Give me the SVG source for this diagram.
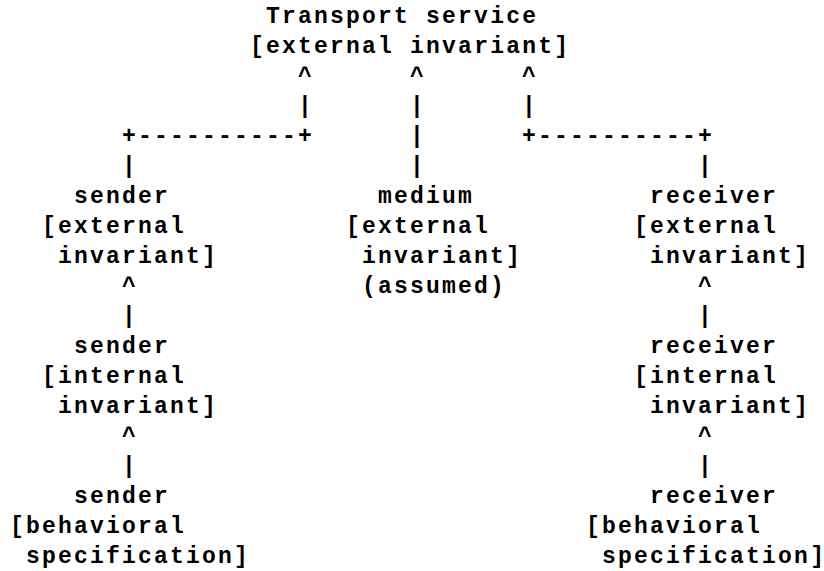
<svg xmlns="http://www.w3.org/2000/svg" width="824" height="571" viewBox="0 0 824 571">
<style>
text{font-family:"Liberation Mono","DejaVu Sans Mono",monospace;font-weight:bold;font-size:23px;letter-spacing:2.2px;fill:#000;white-space:pre}
.end{letter-spacing:0}
</style>
<rect width="824" height="571" fill="#fff"/>
<g id="connectors">
<text x="298.1" y="83">^</text><text x="410.1" y="83">^</text><text x="522.1" y="83">^</text>
<text x="298.1" y="113">|</text><text x="410.1" y="113">|</text><text x="522.1" y="113">|</text>
<text x="122.1" y="143">+----------+</text><text x="410.1" y="143">|</text><text x="522.1" y="143">+----------+</text>
<text x="122.1" y="173">|</text><text x="410.1" y="173">|</text><text x="698.1" y="173">|</text>
<text x="122.1" y="293">^</text><text x="698.1" y="293">^</text>
<text x="122.1" y="323">|</text><text x="698.1" y="323">|</text>
<text x="122.1" y="443">^</text><text x="698.1" y="443">^</text>
<text x="122.1" y="473">|</text><text x="698.1" y="473">|</text>
</g>
<g id="transport">
<text x="266.1" y="23">Transport service</text>
<text x="250.1" y="53">[external invariant]</text>
</g>
<g id="sender-external">
<text x="74.1" y="203">sender</text>
<text x="42.1" y="233">[external</text>
<text x="58.1" y="263">invariant]</text>
</g>
<g id="medium">
<text x="378.1" y="203">medium</text>
<text x="346.1" y="233">[external</text>
<text x="362.1" y="263">invariant]</text>
<text x="362.1" y="293">(assumed)</text>
</g>
<g id="receiver-external">
<text x="650.1" y="203">receiver</text>
<text x="634.1" y="233">[external</text>
<text x="650.1" y="263">invariant]</text>
</g>
<g id="sender-internal">
<text x="74.1" y="353">sender</text>
<text x="42.1" y="383">[internal</text>
<text x="58.1" y="413">invariant]</text>
</g>
<g id="receiver-internal">
<text x="650.1" y="353">receiver</text>
<text x="634.1" y="383">[internal</text>
<text x="650.1" y="413">invariant]</text>
</g>
<g id="sender-behavioral">
<text x="74.1" y="503">sender</text>
<text x="10.1" y="533">[behavioral</text>
<text x="26.1" y="563">specification]</text>
</g>
<g id="receiver-behavioral">
<text x="650.1" y="503">receiver</text>
<text x="586.1" y="533">[behavioral</text>
<text x="602.1" y="563">specification<tspan class="end">]</tspan></text>
</g>
</svg>
